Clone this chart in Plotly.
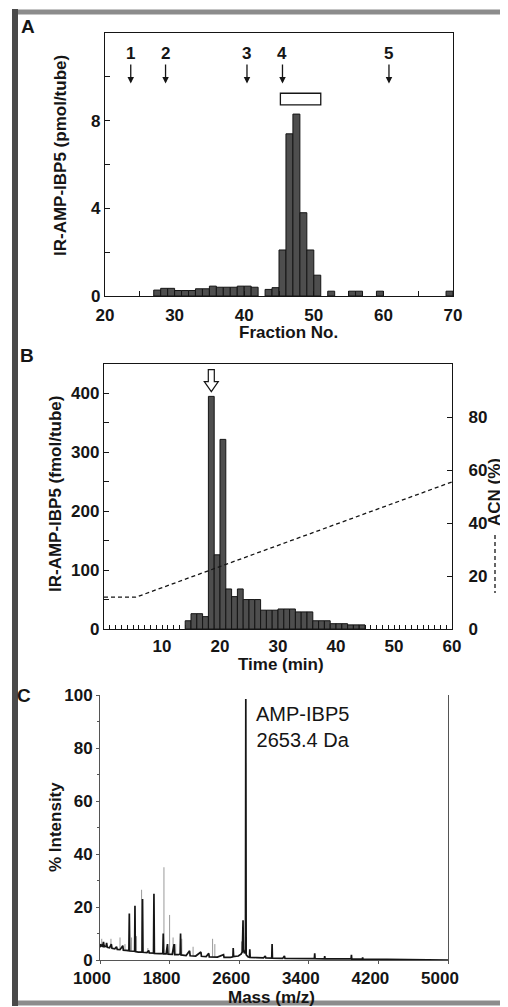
import plotly.graph_objects as go

# the page body adds an 8 px margin, so the figure is 8 px smaller than the window
PAGE_OFFSET = 8
W, H = 508 - PAGE_OFFSET, 1007 - PAGE_OFFSET

# ---- Panel A: IR-AMP-IBP5 in gel filtration fractions (pmol/tube)
frac_a = [27, 28, 29, 30, 31, 32, 33, 34, 35, 36, 37, 38, 39, 40, 41, 43, 44,
          45, 46, 47, 48, 49, 50, 52, 55, 56, 59, 69]
ir_a = [0.27, 0.35, 0.35, 0.25, 0.25, 0.25, 0.33, 0.33, 0.45, 0.4, 0.4, 0.4, 0.45, 0.45, 0.4, 0.3, 0.38,
        2.1, 7.4, 8.3, 3.8, 2.1, 0.95, 0.22, 0.22, 0.22, 0.22, 0.22]
marker_labels = ["1", "2", "3", "4", "5"]
marker_frac = [23.7, 28.7, 40.4, 45.5, 60.8]
pool_frac = (45.2, 51.0)

# ---- Panel B: RP-HPLC of the pooled fractions (fmol/tube) + ACN gradient
time_b = [14, 15, 16, 17, 18, 19, 20, 21, 22, 23, 24, 25, 26, 27, 28, 29, 30,
          31, 32, 33, 34, 35, 36, 37, 38, 39, 40, 41, 42, 43, 44]
ir_b = [14, 26, 26, 21, 395, 126, 322, 68, 55, 68, 50, 50, 50, 32, 32, 32, 34,
        34, 34, 29, 29, 29, 14, 14, 14, 9, 9, 9, 7, 7, 7]
acn_time = [0, 5.5, 60]
acn_pct = [12, 12, 55.5]
peak_time = 18.5

# ---- Panel C: MALDI-TOF spectrum (% intensity)
spec_mass = [1000, 1008, 1020, 1030, 1040, 1048, 1070, 1076, 1084, 1110, 1130, 1138, 1170, 1190,
             1198, 1230, 1262, 1268, 1300, 1332, 1337, 1342, 1380, 1398, 1402, 1406, 1440, 1484,
             1489, 1494, 1540, 1560, 1566, 1600, 1615, 1620, 1625, 1680, 1722, 1727, 1732, 1760,
             1776, 1782, 1830, 1852, 1858, 1900, 1921, 1926, 1931, 1990, 2030, 2036, 2100, 2160,
             2166, 2220, 2250, 2256, 2350, 2420, 2426, 2500, 2528, 2531, 2536, 2590, 2620, 2636,
             2641, 2644, 2648, 2660, 2672, 2676, 2680, 2700, 2718, 2722, 2726, 2800, 2880, 2900,
             2906, 2974, 2978, 2982, 3100, 3120, 3126, 3300, 3464, 3468, 3472, 3579, 3583, 3587,
             3700, 3886, 3890, 3894, 4015, 4019, 4023, 4300, 4600, 5000]
spec_int = [6.0, 5.2, 5.6, 5.0, 6.8, 5.0, 5.2, 6.5, 4.8, 4.6, 6.0, 4.4, 4.2, 5.0,
            4.0, 3.9, 5.4, 3.7, 3.6, 3.5, 17.5, 3.4, 3.3, 3.4, 20.5, 3.2, 3.0, 3.0,
            23.0, 2.9, 2.8, 3.6, 2.7, 2.6, 2.6, 25.0, 2.5, 2.4, 2.4, 10.0, 2.3, 2.3,
            6.0, 2.2, 2.1, 6.0, 2.0, 2.0, 2.2, 10.0, 1.9, 1.7, 3.5, 1.6, 1.5, 3.0,
            1.4, 1.3, 2.5, 1.2, 1.1, 2.0, 1.0, 1.0, 1.2, 4.5, 1.3, 1.5, 2.2, 3.0,
            8.0, 15.0, 4.0, 2.5, 3.5, 98.5, 2.0, 1.2, 1.0, 4.0, 1.0, 0.9, 0.8, 1.5,
            0.8, 0.7, 6.0, 0.7, 0.6, 1.5, 0.6, 0.5, 0.5, 2.5, 0.5, 0.4, 1.5, 0.4,
            0.4, 0.4, 2.0, 0.3, 0.3, 1.0, 0.3, 0.2, 0.1, 0.0]
gray_mass = [1020, 1126, 1230, 1287, 1363, 1420, 1478, 1550, 1735, 1800, 1840, 1870, 1940,
             2070, 2294, 2320, 2626]
gray_top = [8.0, 8.0, 8.5, 6.0, 8.5, 9.0, 26.5, 4.5, 35.0, 17.0, 8.5, 6.0, 8.0,
            5.0, 8.0, 6.0, 7.0]
gray_base = [5.4, 4.5, 3.9, 3.7, 3.4, 3.2, 3.0, 2.8, 2.3, 2.2, 2.1, 2.0, 1.9,
             1.6, 1.2, 1.1, 2.0]
peak_label = "AMP-IBP5<br>2653.4 Da"


# window pixel -> paper fraction
def px(x):
    return (x - PAGE_OFFSET) / W


def py(y):
    return 1 - (y - PAGE_OFFSET) / H


INK = "#151515"
BOLD = dict(family="Liberation Sans, Arial, sans-serif", size=17, color=INK, weight="bold")
BAR_FILL = "#4e4e4e"

fig = go.Figure()

fig.add_trace(go.Bar(x=frac_a, y=ir_a, width=1, offset=0, xaxis="x", yaxis="y",
                     marker=dict(color=BAR_FILL, line=dict(color=INK, width=1))))
fig.add_trace(go.Bar(x=time_b, y=ir_b, width=1, offset=0, xaxis="x2", yaxis="y2",
                     marker=dict(color=BAR_FILL, line=dict(color=INK, width=1))))
fig.add_trace(go.Scatter(x=acn_time, y=acn_pct, mode="lines", xaxis="x2", yaxis="y3",
                         line=dict(color=INK, width=1.3, dash="4px,3px")))

gx, gy = [], []
for m, t, b in zip(gray_mass, gray_top, gray_base):
    gx += [m, m, None]
    gy += [b, t, None]
fig.add_trace(go.Scatter(x=gx, y=gy, mode="lines", xaxis="x3", yaxis="y4",
                         line=dict(color="#9a9a9a", width=1)))
fig.add_trace(go.Scatter(x=spec_mass, y=spec_int, mode="lines", xaxis="x3", yaxis="y4",
                         line=dict(color=INK, width=1.7)))

frame = dict(showline=True, linecolor=INK, linewidth=1.3, mirror=True, showgrid=False,
             zeroline=False, tickfont=BOLD, ticks="inside", ticklen=5, tickcolor=INK,
             automargin=False)

fig.update_layout(
    width=W, height=H, margin=dict(l=0, r=0, t=0, b=0, autoexpand=False),
    paper_bgcolor="white", plot_bgcolor="white", showlegend=False,
    xaxis=dict(frame, domain=[px(105), px(453)], anchor="y", range=[20, 70], tick0=20, dtick=10,
               minor=dict(dtick=5, ticks="inside", ticklen=5, tickcolor=INK),
               ticklabelstandoff=3),
    yaxis=dict(frame, domain=[py(296), py(33)], anchor="x", range=[0, 12], tickvals=[0, 4, 8],
               minor=dict(dtick=2, ticks="inside", ticklen=5, tickcolor=INK)),
    xaxis2=dict(frame, domain=[px(104), px(452)], anchor="y2", range=[0, 60],
                tickvals=[10, 20, 30, 40, 50, 60], ticklen=4, layer="below traces",
                minor=dict(dtick=1, ticks="inside", ticklen=4, tickcolor=INK),
                ticklabelstandoff=1),
    yaxis2=dict(frame, domain=[py(629), py(364)], anchor="x2", range=[0, 450],
                tickvals=[0, 100, 200, 300, 400],
                minor=dict(dtick=50, ticks="inside", ticklen=5, tickcolor=INK)),
    yaxis3=dict(frame, overlaying="y2", side="right", anchor="x2", range=[0, 100], mirror=False,
                tickvals=[0, 20, 40, 60, 80], ticklabelstandoff=12),
    xaxis3=dict(showline=True, linecolor="#555555", linewidth=1, showgrid=False, zeroline=False,
                domain=[px(100), px(448)], anchor="y4", range=[1000, 5000], automargin=False,
                tickvals=[1000, 1800, 2600, 3400, 4200, 5000], ticks="outside", ticklen=3,
                tickcolor="#555555", tickfont=BOLD, ticklabelshift=-8),
    yaxis4=dict(showline=True, linecolor="#555555", linewidth=1, mirror=True, showgrid=False,
                zeroline=False, domain=[py(960), py(695)], anchor="x3", range=[0, 100], dtick=20,
                ticks="outside", ticklen=3, tickcolor="#555555", tickfont=BOLD, automargin=False,
                minor=dict(dtick=10, ticks="outside", ticklen=2, tickcolor="#555555")),
)

# Fraction markers (arrows with numbers) in panel A
for lab, f in zip(marker_labels, marker_frac):
    fig.add_annotation(x=f, y=9.7, xref="x", yref="y", text=lab, showarrow=True,
                       ax=0, ay=-30, arrowhead=2, arrowsize=1, arrowwidth=1.3,
                       arrowcolor=INK, font=BOLD)

# Pooled fractions bar in panel A
fig.add_shape(type="rect", xref="x", yref="y", x0=pool_frac[0], x1=pool_frac[1], y0=8.72, y1=9.25,
              line=dict(color=INK, width=1.3), fillcolor="white")

# Hollow arrow above the main HPLC peak
fig.add_shape(type="path", xref="x2", yref="y2", xsizemode="pixel", ysizemode="pixel",
              xanchor=peak_time, yanchor=403,
              path="M 0 0 L -7 10 L -3 10 L -3 22 L 3 22 L 3 10 L 7 10 Z",
              line=dict(color=INK, width=1.2), fillcolor="white")

# Axis titles
titles = [
    ("IR-AMP-IBP5 (pmol/tube)", 60, 156, -90),
    ("Fraction No.", 288, 332, 0),
    ("IR-AMP-IBP5 (fmol/tube)", 55, 494, -90),
    ("Time (min)", 281, 664, 0),
    ("ACN (%)", 495, 492, -90),
    ("% Intensity", 55, 827, -90),
    ("Mass (m/z)", 271, 997, 0),
]
for txt, x, y, ang in titles:
    fig.add_annotation(x=px(x), y=py(y), xref="paper", yref="paper", text=txt, showarrow=False,
                       textangle=ang, xanchor="center", yanchor="middle", font=BOLD)

# Dashed key next to ACN title
fig.add_shape(type="line", xref="paper", yref="paper", x0=px(495), x1=px(495), y0=py(535), y1=py(593),
              line=dict(color=INK, width=1.3, dash="4px,3px"))

# Panel letters
for lab, x, y in [("A", 28, 26), ("B", 27, 356), ("C", 24, 695)]:
    fig.add_annotation(x=px(x), y=py(y), xref="paper", yref="paper", text=lab, showarrow=False,
                       xanchor="center", yanchor="middle",
                       font=dict(BOLD, size=19))

# Peak label in panel C
fig.add_annotation(x=px(303), y=py(727), xref="paper", yref="paper", text=peak_label,
                   showarrow=False, xanchor="center", yanchor="middle",
                   font=dict(family="Liberation Sans, Arial, sans-serif", size=20, color=INK))

# Outer frame of the scanned figure (darker on the left side)
fig.add_shape(type="rect", xref="paper", yref="paper", x0=px(15), x1=px(504), y0=py(1003), y1=py(12),
              line=dict(color="#8c8c8c", width=5), layer="above")
fig.add_shape(type="rect", xref="paper", yref="paper", x0=px(12), x1=px(18), y0=py(1006), y1=py(9),
              line=dict(width=0), fillcolor="#4a4a4a", layer="above")

fig.write_html("out.html")
